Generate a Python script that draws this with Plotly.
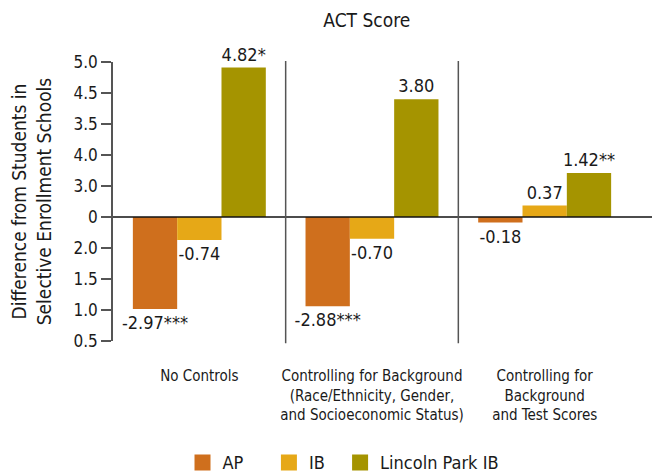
import plotly.graph_objects as go

FONT = "DejaVu Sans Condensed, Liberation Sans Narrow, sans-serif"

categories = [
    "No Controls",
    "Controlling for Background<br>(Race/Ethnicity, Gender,<br>and Socioeconomic Status)",
    "Controlling for<br>Background<br>and Test Scores",
]
series_names = ["AP", "IB", "Lincoln Park IB"]
ap_values = [-2.97, -2.88, -0.18]
ib_values = [-0.74, -0.70, 0.37]
lpib_values = [4.82, 3.80, 1.42]
ap_labels = ["-2.97***", "-2.88***", "-0.18"]
ib_labels = ["-0.74", "-0.70", "0.37"]
lpib_labels = ["4.82*", "3.80", "1.42**"]
colors = ["#CF6F1D", "#E6A817", "#A59400"]

# the original chart prints these odd labels on its axis
tick_vals = [5, 4, 3, 2, 1, 0, -1, -2, -3, -4]
tick_text = ["5.0", "4.5", "3.5", "4.0", "3.0", "0", "2.0", "1.5", "1.0", "0.5"]

# extra space after short legend names, like the original spacing
legend_pad = {"AP": "\u00a0" * 4, "IB": "\u00a0" * 2, "Lincoln Park IB": ""}

fig = go.Figure()

for name, vals, labels, color in zip(series_names,
                                     [ap_values, ib_values, lpib_values],
                                     [ap_labels, ib_labels, lpib_labels],
                                     colors):
    fig.add_trace(go.Bar(
        x=categories,
        y=vals,
        name=name,
        marker_color=color,
        marker_line_width=0,
        text=labels,
        textposition="outside",
        constraintext="none",
        textfont=dict(size=18, color="#1a1a1a", family=FONT),
        cliponaxis=False,
        showlegend=False,
    ))
    # legend entry with a bigger square swatch
    fig.add_trace(go.Scatter(
        x=[None], y=[None],
        mode="markers",
        name=name + legend_pad[name],
        marker=dict(symbol="square", size=16, color=color),
        showlegend=True,
    ))

# zero line and panel separators
fig.add_shape(type="line", xref="paper", yref="y", x0=0, x1=1.06, y0=0, y1=0,
              line=dict(color="#111111", width=1.5))
for xs in [1 / 3, 2 / 3]:
    fig.add_shape(type="line", xref="paper", yref="paper", x0=xs, x1=xs,
                  y0=-0.008, y1=1.004, line=dict(color="#555555", width=1.5))

# page body has an 8px margin, so the figure is a bit smaller than the window
fig.update_layout(
    template="none",
    width=652,
    height=464,
    margin=dict(l=105, r=29, t=54, b=131),
    plot_bgcolor="white",
    paper_bgcolor="white",
    font=dict(family=FONT, color="#1a1a1a", size=17),
    barmode="group",
    bargap=0.23,
    bargroupgap=0,
    title=dict(text="ACT Score", x=0.49, xref="paper", xanchor="center",
               y=0.974, yref="container", yanchor="middle", font=dict(size=19)),
    xaxis=dict(
        automargin=False,
        showgrid=False,
        showline=False,
        zeroline=False,
        ticks="",
        tickfont=dict(size=15),
        ticklabelstandoff=24,
        range=[-0.5, 2.5],
    ),
    yaxis=dict(
        automargin=False,
        range=[-4, 5],
        tickvals=tick_vals,
        ticktext=tick_text,
        tickfont=dict(size=17),
        ticks="outside",
        ticklen=10,
        tickcolor="#555555",
        tickwidth=1.5,
        showline=True,
        linecolor="#555555",
        linewidth=1.5,
        showgrid=False,
        zeroline=False,
        title=dict(text="Difference from Students in<br>Selective Enrollment Schools",
                   font=dict(size=19), standoff=17),
    ),
    legend=dict(
        orientation="h",
        x=0.445,
        xanchor="center",
        yref="container",
        y=0.02,
        yanchor="middle",
        font=dict(size=18),
        itemwidth=30,
        bgcolor="rgba(0,0,0,0)",
    ),
)

fig.write_html("out.html")
